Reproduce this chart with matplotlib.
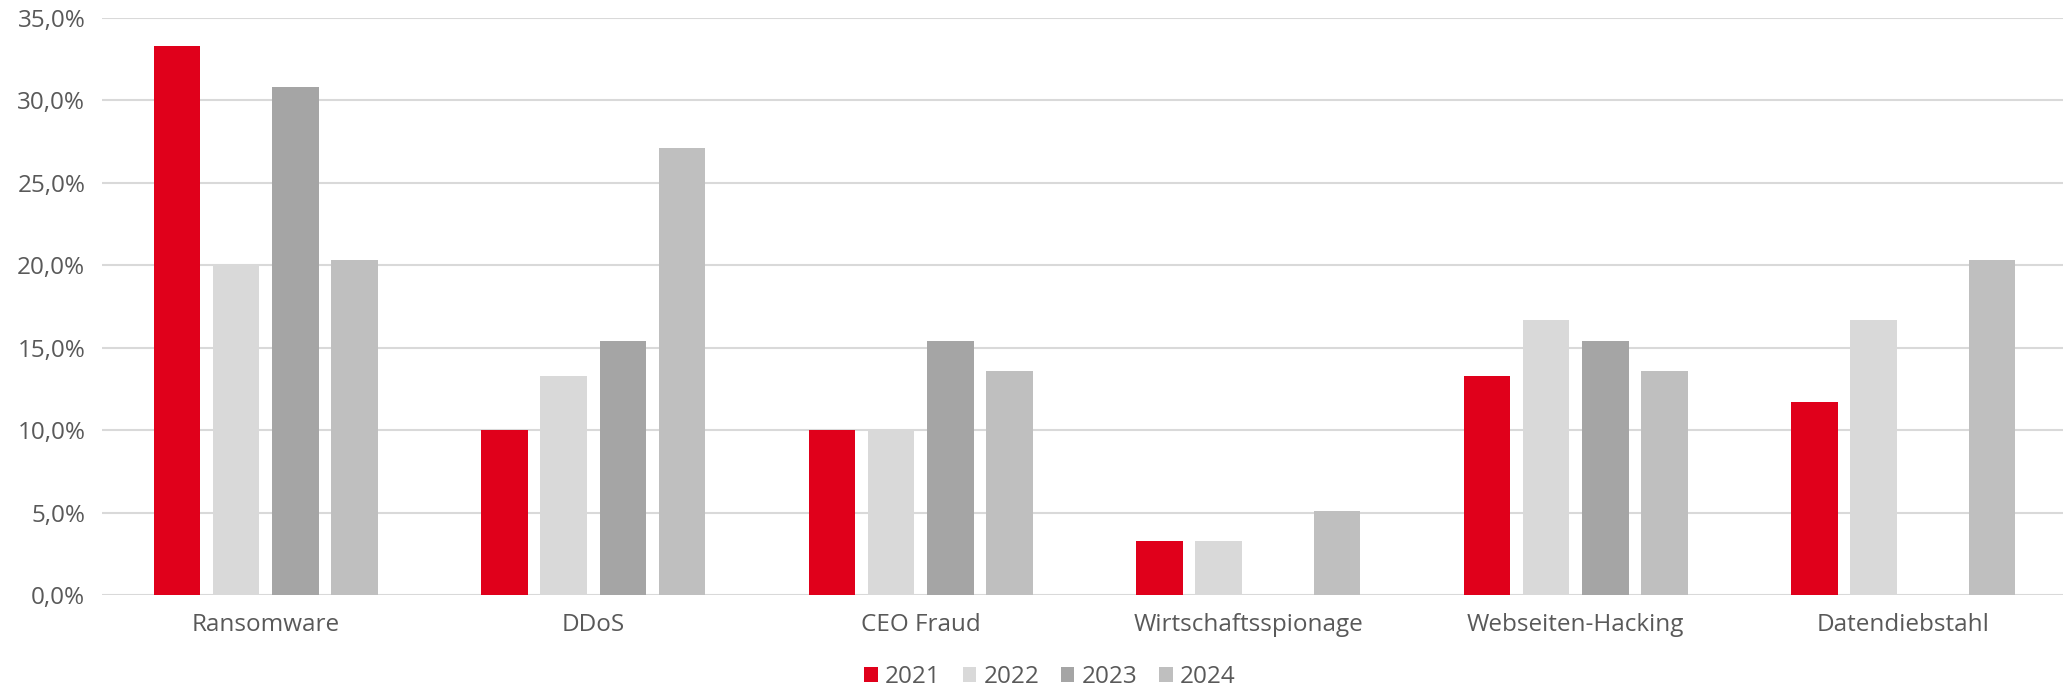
import numpy as np
import matplotlib.pyplot as plt
from matplotlib.ticker import FuncFormatter

plt.rcParams['font.family'] = ['Open Sans', 'DejaVu Sans']

categories = ["Ransomware", "DDoS", "CEO Fraud", "Wirtschaftsspionage", "Webseiten-Hacking", "Datendiebstahl"]
years = ["2021", "2022", "2023", "2024"]
v2021 = [33.3, 10.0, 10.0, 3.3, 13.3, 11.7]
v2022 = [20.0, 13.3, 10.0, 3.3, 16.7, 16.7]
v2023 = [30.8, 15.4, 15.4, 0.0, 15.4, 0.0]
v2024 = [20.3, 27.1, 13.6, 5.1, 13.6, 20.3]
colors = ["#E0001B", "#D9D9D9", "#A5A5A5", "#BFBFBF"]

TEXT = "#595959"
GRID = "#D9D9D9"
FS = 17.5

fig = plt.figure(figsize=(20.63, 6.9), dpi=100)
# plot area runs slightly past the right edge of the picture, like the reference
ax = fig.add_axes([102 / 2063, 1 - 595 / 690, (2067 - 102) / 2063, (595 - 18) / 690])

x = np.arange(len(categories))
step = 0.181
width = 0.142
for i, (vals, yr) in enumerate(zip([v2021, v2022, v2023, v2024], years)):
    ax.bar(x + (i - 1.5) * step, vals, width, color=colors[i], label=yr, zorder=3)

ax.set_xlim(-0.5, len(categories) - 0.5)
ax.set_ylim(0, 35)
ax.set_yticks(np.arange(0, 35.1, 5))
ax.yaxis.set_major_formatter(FuncFormatter(lambda v, p: f"{v:.1f}%".replace(".", ",")))
ax.grid(axis='y', color=GRID, linewidth=1.5, zorder=0)
ax.set_axisbelow(True)
for s in ax.spines.values():
    s.set_visible(False)
ax.tick_params(axis='both', length=0, labelsize=FS, colors=TEXT)
ax.tick_params(axis='y', pad=12)
ax.tick_params(axis='x', pad=13)
ax.set_xticks(x)
ax.set_xticklabels(categories)

fig.legend(loc='center', bbox_to_anchor=(0.509, 1 - 677 / 690), ncol=4, frameon=False,
           fontsize=FS, labelcolor=TEXT, handlelength=0.55, handleheight=0.55,
           handletextpad=0.3, columnspacing=0.9, borderpad=0)

fig.savefig("out.png", dpi=100)
